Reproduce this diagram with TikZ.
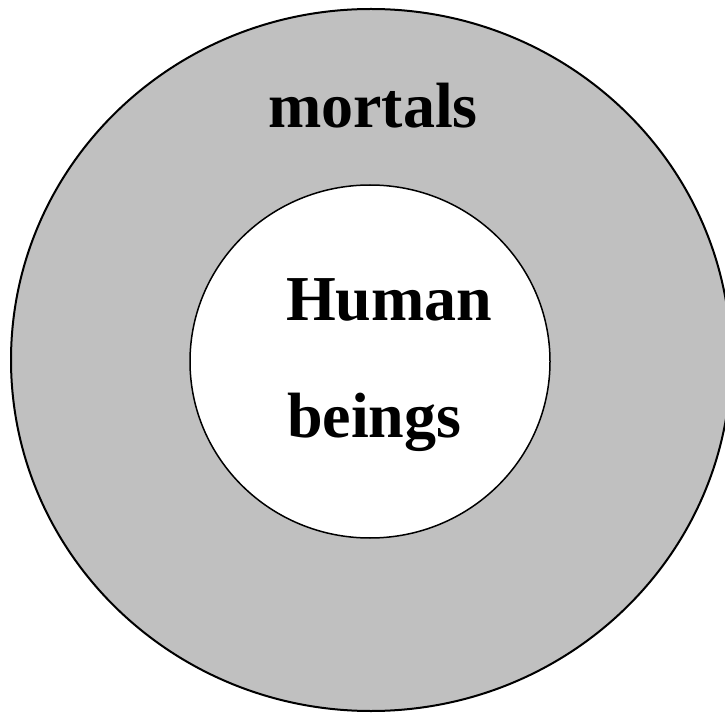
\documentclass[tikz,border=0pt]{standalone}
\usepackage{fontspec}
\setmainfont{Liberation Serif}
\definecolor{ringgray}{RGB}{192,192,192}
\begin{document}
\begin{tikzpicture}[x=1pt,y=1pt,
  outerset/.style={draw=black,fill=ringgray,line width=2pt},
  innerset/.style={draw=black,fill=white,line width=1.5pt},
  label/.style={font=\fontsize{64}{70}\selectfont\bfseries,inner sep=0pt}]
\clip (0,0) rectangle (725,713);
\useasboundingbox (0,0) rectangle (725,713);
\draw[outerset] (371,353) ellipse [x radius=360, y radius=351];
\draw[innerset] (370,351.5) ellipse [x radius=180, y radius=176.5];
\node[label,anchor=base] (mortals) at (373,585) {mortals};
\node[label,anchor=base west] (human) at (286,392) {Human};
\node[label,anchor=base west] (beings) at (287,276) {beings};
\end{tikzpicture}
\end{document}
